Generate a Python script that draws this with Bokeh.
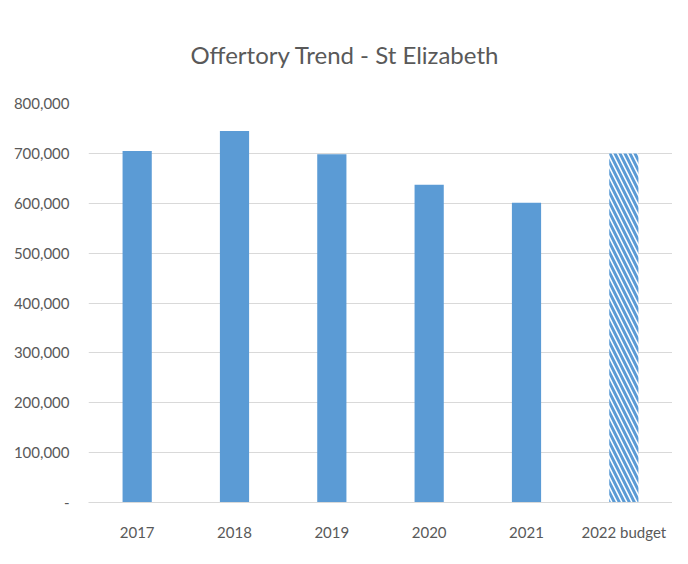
from bokeh.plotting import figure
from bokeh.models import FixedTicker, NumeralTickFormatter, Range1d, Title
from bokeh.embed import file_html
from bokeh.resources import INLINE

categories = ["2017", "2018", "2019", "2020", "2021", "2022 budget"]
values = [705000, 745000, 698000, 637000, 601000, 700000]
is_budget = [False, False, False, False, False, True]
y_ticks = [0, 100000, 200000, 300000, 400000, 500000, 600000, 700000, 800000]
title_text = "Offertory Trend - St Elizabeth"

BLUE = "#5B9BD5"
GREY = "#595959"
FONT = "Lato"

p = figure(x_range=categories, y_range=Range1d(0, 800000),
           width=672, height=548, output_backend="svg", toolbar_location=None,
           min_border_left=88, min_border_right=0, min_border_top=103, min_border_bottom=46)

actual_x = [c for c, b in zip(categories, is_budget) if not b]
actual_y = [v for v, b in zip(values, is_budget) if not b]
budget_x = [c for c, b in zip(categories, is_budget) if b]
budget_y = [v for v, b in zip(values, is_budget) if b]

p.vbar(x=actual_x, top=actual_y, width=0.3, fill_color=BLUE, line_color=None)
p.vbar(x=budget_x, top=budget_y, width=0.3, fill_color="white", line_color=None,
       hatch_pattern="\\", hatch_color=BLUE, hatch_weight=3, hatch_scale=10)

p.title = Title(text=title_text, align="left", offset=102,
                text_font=FONT, text_font_size="24px", text_color=GREY,
                text_font_style="normal", standoff=70)

p.outline_line_color = None
p.xgrid.grid_line_color = None
p.ygrid.grid_line_color = "#D9D9D9"
p.ygrid.grid_line_width = 1.2

p.yaxis.ticker = FixedTicker(ticks=y_ticks)
p.yaxis.formatter = NumeralTickFormatter(format="0,0")
p.yaxis.major_label_overrides = {0: "-"}
for ax in (p.xaxis, p.yaxis):
    ax.axis_line_color = None
    ax.major_tick_line_color = None
    ax.minor_tick_line_color = None
    ax.major_label_text_font = FONT
    ax.major_label_text_font_size = "15px"
    ax.major_label_text_color = GREY
p.yaxis.major_label_standoff = 13
p.xaxis.major_label_standoff = 14
p.xaxis.axis_line_color = "#D9D9D9"
p.x_range.range_padding = 0.0

open("out.html", "w").write(file_html(p, INLINE))
